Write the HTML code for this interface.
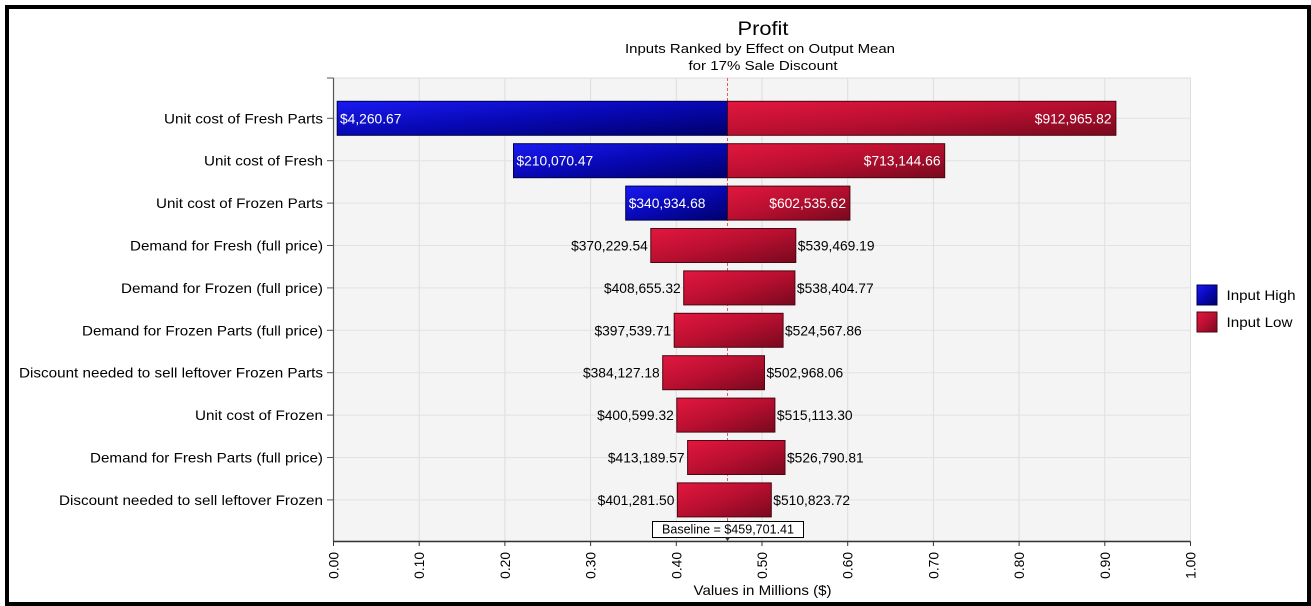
<!DOCTYPE html>
<html>
<head>
<meta charset="utf-8">
<style>
  html, body { margin: 0; padding: 0; background: #ffffff; }
  svg { display: block; }
  text { font-family: "Liberation Sans", Arial, sans-serif; }
</style>
</head>
<body>
<svg width="1311" height="606" viewBox="0 0 1311 606" xmlns="http://www.w3.org/2000/svg">
  <defs>
    <linearGradient id="gRed" x1="0" y1="0" x2="1" y2="1">
      <stop offset="0" stop-color="#e3173f"/>
      <stop offset="0.5" stop-color="#b80f30"/>
      <stop offset="1" stop-color="#78091e"/>
    </linearGradient>
    <linearGradient id="gBlue" x1="0" y1="0" x2="1" y2="1">
      <stop offset="0" stop-color="#1a1af2"/>
      <stop offset="0.5" stop-color="#0808b4"/>
      <stop offset="1" stop-color="#00006a"/>
    </linearGradient>
  </defs>

  <rect x="0" y="0" width="1311" height="606" fill="#ffffff"/>

  <!-- Title -->
  <text x="763" y="35" font-size="19" text-anchor="middle" textLength="51" lengthAdjust="spacingAndGlyphs" fill="#000">Profit</text>
  <text x="760" y="53" font-size="13" text-anchor="middle" textLength="270" lengthAdjust="spacingAndGlyphs" fill="#000">Inputs Ranked by Effect on Output Mean</text>
  <text x="763" y="70" font-size="13" text-anchor="middle" textLength="149" lengthAdjust="spacingAndGlyphs" fill="#000">for 17% Sale Discount</text>

  <!-- Plot area -->
  <rect x="333.5" y="78" width="857" height="463" fill="#f4f4f4" stroke="#dcdcdc" stroke-width="1"/>

  <!-- vertical grid -->
  <g stroke="#dddddd" stroke-width="1">
    <line x1="419.2" y1="78" x2="419.2" y2="541"/>
    <line x1="504.9" y1="78" x2="504.9" y2="541"/>
    <line x1="590.6" y1="78" x2="590.6" y2="541"/>
    <line x1="676.3" y1="78" x2="676.3" y2="541"/>
    <line x1="762" y1="78" x2="762" y2="541"/>
    <line x1="847.7" y1="78" x2="847.7" y2="541"/>
    <line x1="933.4" y1="78" x2="933.4" y2="541"/>
    <line x1="1019.1" y1="78" x2="1019.1" y2="541"/>
    <line x1="1104.8" y1="78" x2="1104.8" y2="541"/>
    <line x1="1190.5" y1="78" x2="1190.5" y2="541"/>
  </g>
  <!-- horizontal grid -->
  <g stroke="#e2e2e2" stroke-width="1">
    <line x1="333.5" y1="118.3" x2="1190.5" y2="118.3"/>
    <line x1="333.5" y1="160.7" x2="1190.5" y2="160.7"/>
    <line x1="333.5" y1="203.1" x2="1190.5" y2="203.1"/>
    <line x1="333.5" y1="245.5" x2="1190.5" y2="245.5"/>
    <line x1="333.5" y1="287.9" x2="1190.5" y2="287.9"/>
    <line x1="333.5" y1="330.3" x2="1190.5" y2="330.3"/>
    <line x1="333.5" y1="372.7" x2="1190.5" y2="372.7"/>
    <line x1="333.5" y1="415.1" x2="1190.5" y2="415.1"/>
    <line x1="333.5" y1="457.5" x2="1190.5" y2="457.5"/>
    <line x1="333.5" y1="499.9" x2="1190.5" y2="499.9"/>
  </g>

  <!-- baseline dashed line -->
  <line x1="727.5" y1="78" x2="727.5" y2="541" stroke="#e05a6c" stroke-width="1" stroke-dasharray="3,2"/>

  <!-- Bars -->
  <g stroke-width="1">
    <rect x="337.2" y="101.3" width="390.3" height="34" fill="url(#gBlue)" stroke="#00004a"/>
    <rect x="727.5" y="101.3" width="388.4" height="34" fill="url(#gRed)" stroke="#4a0612"/>
    <rect x="513.5" y="143.7" width="214" height="34" fill="url(#gBlue)" stroke="#00004a"/>
    <rect x="727.5" y="143.7" width="217.2" height="34" fill="url(#gRed)" stroke="#4a0612"/>
    <rect x="625.7" y="186.1" width="101.8" height="34" fill="url(#gBlue)" stroke="#00004a"/>
    <rect x="727.5" y="186.1" width="122.4" height="34" fill="url(#gRed)" stroke="#4a0612"/>
    <rect x="650.8" y="228.5" width="145" height="34" fill="url(#gRed)" stroke="#4a0612"/>
    <rect x="683.7" y="270.9" width="111.2" height="34" fill="url(#gRed)" stroke="#4a0612"/>
    <rect x="674.2" y="313.3" width="108.9" height="34" fill="url(#gRed)" stroke="#4a0612"/>
    <rect x="662.7" y="355.7" width="101.8" height="34" fill="url(#gRed)" stroke="#4a0612"/>
    <rect x="676.8" y="398.1" width="98.1" height="34" fill="url(#gRed)" stroke="#4a0612"/>
    <rect x="687.6" y="440.5" width="97.4" height="34" fill="url(#gRed)" stroke="#4a0612"/>
    <rect x="677.4" y="482.9" width="93.9" height="34" fill="url(#gRed)" stroke="#4a0612"/>
  </g>

  <!-- Value labels -->
  <g font-size="13.8">
    <text x="340" y="123.3" fill="#ffffff">$4,260.67</text>
    <text x="1111.5" y="123.3" fill="#ffffff" text-anchor="end">$912,965.82</text>
    <text x="516.5" y="165.7" fill="#ffffff">$210,070.47</text>
    <text x="940.5" y="165.7" fill="#ffffff" text-anchor="end">$713,144.66</text>
    <text x="628.7" y="208.1" fill="#ffffff">$340,934.68</text>
    <text x="846" y="208.1" fill="#ffffff" text-anchor="end">$602,535.62</text>

    <text x="647.8" y="250.5" fill="#000" text-anchor="end">$370,229.54</text>
    <text x="797.8" y="250.5" fill="#000">$539,469.19</text>
    <text x="680.7" y="292.9" fill="#000" text-anchor="end">$408,655.32</text>
    <text x="796.9" y="292.9" fill="#000">$538,404.77</text>
    <text x="671.2" y="335.3" fill="#000" text-anchor="end">$397,539.71</text>
    <text x="785" y="335.3" fill="#000">$524,567.86</text>
    <text x="659.7" y="377.7" fill="#000" text-anchor="end">$384,127.18</text>
    <text x="766.5" y="377.7" fill="#000">$502,968.06</text>
    <text x="673.8" y="420.1" fill="#000" text-anchor="end">$400,599.32</text>
    <text x="776.9" y="420.1" fill="#000">$515,113.30</text>
    <text x="684.6" y="462.5" fill="#000" text-anchor="end">$413,189.57</text>
    <text x="787" y="462.5" fill="#000">$526,790.81</text>
    <text x="674.4" y="504.9" fill="#000" text-anchor="end">$401,281.50</text>
    <text x="773.3" y="504.9" fill="#000">$510,823.72</text>
  </g>

  <!-- Baseline box -->
  <rect x="652.5" y="521.5" width="151" height="16" fill="#ffffff" stroke="#000" stroke-width="1"/>
  <text x="728" y="533.5" font-size="12.5" text-anchor="middle" textLength="132" lengthAdjust="spacingAndGlyphs" fill="#000">Baseline = $459,701.41</text>
  <path d="M725 537.5 L730 537.5 L727.5 541 Z" fill="#333"/>

  <!-- Axes -->
  <line x1="333.5" y1="78" x2="333.5" y2="541.5" stroke="#555" stroke-width="1.2"/>
  <line x1="333" y1="541.5" x2="1190.5" y2="541.5" stroke="#333" stroke-width="1.4"/>
  <line x1="327" y1="78" x2="333.5" y2="78" stroke="#555" stroke-width="1"/>

  <!-- y ticks -->
  <g stroke="#555" stroke-width="1">
    <line x1="327" y1="118.3" x2="333.5" y2="118.3"/>
    <line x1="327" y1="160.7" x2="333.5" y2="160.7"/>
    <line x1="327" y1="203.1" x2="333.5" y2="203.1"/>
    <line x1="327" y1="245.5" x2="333.5" y2="245.5"/>
    <line x1="327" y1="287.9" x2="333.5" y2="287.9"/>
    <line x1="327" y1="330.3" x2="333.5" y2="330.3"/>
    <line x1="327" y1="372.7" x2="333.5" y2="372.7"/>
    <line x1="327" y1="415.1" x2="333.5" y2="415.1"/>
    <line x1="327" y1="457.5" x2="333.5" y2="457.5"/>
    <line x1="327" y1="499.9" x2="333.5" y2="499.9"/>
  </g>

  <!-- x ticks -->
  <g stroke="#333" stroke-width="1">
    <line x1="333.5" y1="541.5" x2="333.5" y2="546"/>
    <line x1="419.2" y1="541.5" x2="419.2" y2="546"/>
    <line x1="504.9" y1="541.5" x2="504.9" y2="546"/>
    <line x1="590.6" y1="541.5" x2="590.6" y2="546"/>
    <line x1="676.3" y1="541.5" x2="676.3" y2="546"/>
    <line x1="762" y1="541.5" x2="762" y2="546"/>
    <line x1="847.7" y1="541.5" x2="847.7" y2="546"/>
    <line x1="933.4" y1="541.5" x2="933.4" y2="546"/>
    <line x1="1019.1" y1="541.5" x2="1019.1" y2="546"/>
    <line x1="1104.8" y1="541.5" x2="1104.8" y2="546"/>
    <line x1="1190.5" y1="541.5" x2="1190.5" y2="546"/>
  </g>

  <!-- y category labels -->
  <g font-size="14" fill="#000" text-anchor="end">
    <text x="323" y="123.3" textLength="159" lengthAdjust="spacingAndGlyphs">Unit cost of Fresh Parts</text>
    <text x="323" y="165.7" textLength="119" lengthAdjust="spacingAndGlyphs">Unit cost of Fresh</text>
    <text x="323" y="208.1" textLength="167" lengthAdjust="spacingAndGlyphs">Unit cost of Frozen Parts</text>
    <text x="323" y="250.5" textLength="193" lengthAdjust="spacingAndGlyphs">Demand for Fresh (full price)</text>
    <text x="323" y="292.9" textLength="202" lengthAdjust="spacingAndGlyphs">Demand for Frozen (full price)</text>
    <text x="323" y="335.3" textLength="241" lengthAdjust="spacingAndGlyphs">Demand for Frozen Parts (full price)</text>
    <text x="323" y="377.7" textLength="304" lengthAdjust="spacingAndGlyphs">Discount needed to sell leftover Frozen Parts</text>
    <text x="323" y="420.1" textLength="128" lengthAdjust="spacingAndGlyphs">Unit cost of Frozen</text>
    <text x="323" y="462.5" textLength="233" lengthAdjust="spacingAndGlyphs">Demand for Fresh Parts (full price)</text>
    <text x="323" y="504.9" textLength="264" lengthAdjust="spacingAndGlyphs">Discount needed to sell leftover Frozen</text>
  </g>

  <!-- x tick labels (rotated) -->
  <g font-size="13.8" fill="#000" text-anchor="end">
    <text transform="translate(338.5,552) rotate(-90)">0.00</text>
    <text transform="translate(424.2,552) rotate(-90)">0.10</text>
    <text transform="translate(509.9,552) rotate(-90)">0.20</text>
    <text transform="translate(595.6,552) rotate(-90)">0.30</text>
    <text transform="translate(681.3,552) rotate(-90)">0.40</text>
    <text transform="translate(767,552) rotate(-90)">0.50</text>
    <text transform="translate(852.7,552) rotate(-90)">0.60</text>
    <text transform="translate(938.4,552) rotate(-90)">0.70</text>
    <text transform="translate(1024.1,552) rotate(-90)">0.80</text>
    <text transform="translate(1109.8,552) rotate(-90)">0.90</text>
    <text transform="translate(1195.5,552) rotate(-90)">1.00</text>
  </g>

  <!-- x axis title -->
  <text x="762.5" y="595" font-size="14" text-anchor="middle" textLength="138" lengthAdjust="spacingAndGlyphs" fill="#000">Values in Millions ($)</text>

  <!-- Legend -->
  <rect x="1197" y="285" width="20" height="20" fill="url(#gBlue)" stroke="#00004a" stroke-width="1"/>
  <rect x="1197" y="312" width="20" height="20" fill="url(#gRed)" stroke="#4a0612" stroke-width="1"/>
  <text x="1226.5" y="300" font-size="14" textLength="69" lengthAdjust="spacingAndGlyphs" fill="#000">Input High</text>
  <text x="1226.5" y="327" font-size="14" textLength="66" lengthAdjust="spacingAndGlyphs" fill="#000">Input Low</text>

  <!-- Outer black frame -->
  <rect x="7" y="7" width="1302" height="597" fill="none" stroke="#000" stroke-width="4"/>
</svg>
</body>
</html>
